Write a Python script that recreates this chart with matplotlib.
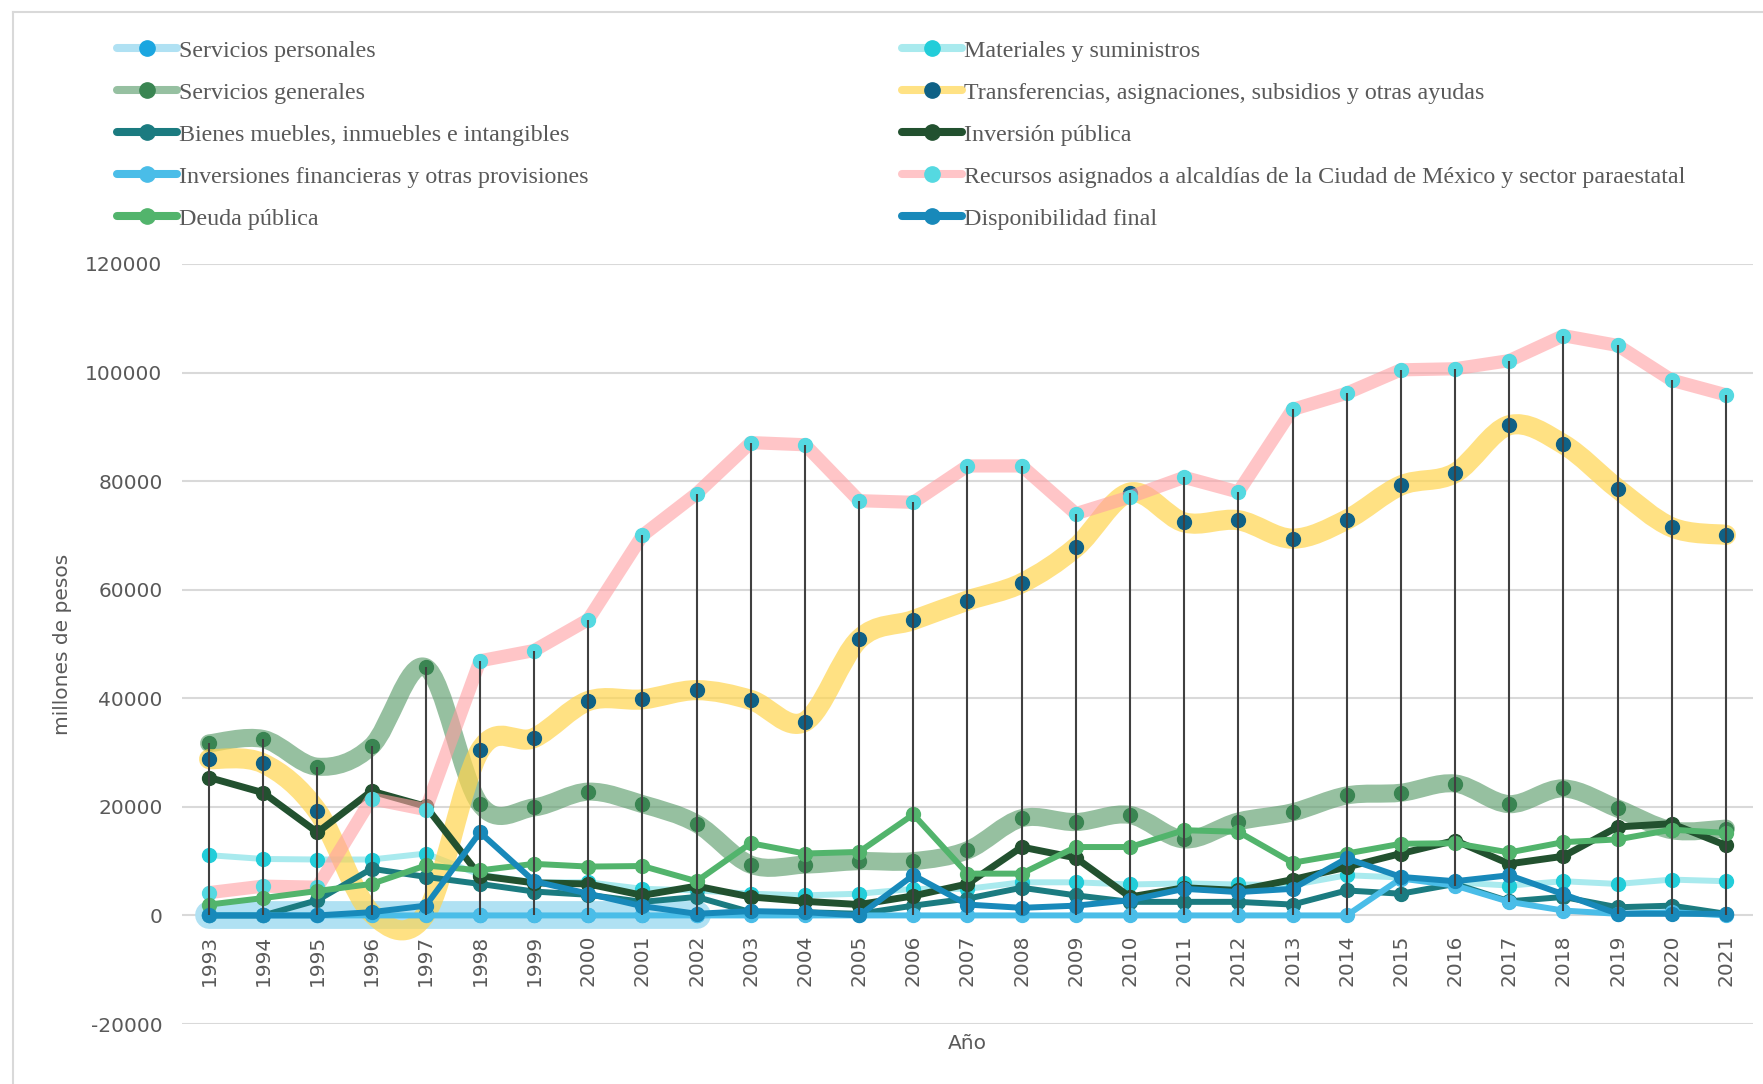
import numpy as np
import matplotlib
matplotlib.use("Agg")
import matplotlib.pyplot as plt
from matplotlib.path import Path
from matplotlib.patches import PathPatch
from matplotlib.lines import Line2D

plt.rcParams['axes.unicode_minus'] = False

# ---- data (millones de pesos) ----
years = list(range(1993, 2022))

servicios_personales = [0, 0, 0, 0, 0, 0, 0, 0, 0, 0] + [np.nan] * 19
materiales = [11100, 10400, 10300, 10300, 11400, 7500, 6100, 6100, 4900, 4600,
              4000, 3700, 4000, 4900, 4900, 6100, 6100, 5700, 5900, 5700,
              5600, 7400, 7000, 6100, 5500, 6300, 5800, 6600, 6300]
servicios_generales = [31700, 32500, 27400, 31200, 45700, 20500, 19900, 22800, 20500, 16900,
                       9350, 9350, 10000, 10000, 12000, 17900, 17200, 18500, 14000, 17300,
                       19000, 22100, 22600, 24300, 20500, 23400, 19700, 15700, 16000]
transferencias = [28800, 28000, 19200, 400, 300, 30400, 32700, 39500, 39800, 41500,
                  39700, 35700, 50900, 54400, 58000, 61200, 67800, 77900, 72400, 72800,
                  69400, 72900, 79200, 81500, 90300, 86800, 78600, 71500, 70100]
bienes_muebles = [0, 0, 2800, 8600, 7100, 5800, 4400, 3800, 2500, 3400,
                  600, 600, 300, 1800, 3100, 5100, 3700, 2500, 2500, 2500,
                  2000, 4600, 4000, 5800, 2600, 3400, 1500, 1800, 300]
inversion_publica = [25400, 22600, 15300, 22900, 20100, 7300, 6000, 5800, 3700, 5400,
                     3400, 2600, 2000, 3600, 5800, 12600, 10600, 3400, 5100, 4600,
                     6600, 8900, 11400, 13800, 9500, 10900, 16300, 16900, 12900]
inversiones_financieras = [0] * 22 + [6800, 5500, 2500, 900, 300, 600, 0]
recursos_alcaldias = [4200, 5400, 5200, 21500, 19500, 46900, 48800, 54500, 70000, 77700,
                      87100, 86700, 76400, 76100, 82800, 82800, 74000, 77100, 80700, 78000,
                      93200, 96200, 100500, 100700, 102200, 106800, 105000, 98600, 95900]
deuda_publica = [2000, 3200, 4500, 5800, 9200, 8300, 9500, 9000, 9100, 6300,
                 13300, 11400, 11700, 18600, 7700, 7700, 12600, 12600, 15700, 15400,
                 9700, 11400, 13200, 13300, 11600, 13500, 14000, 15800, 15200]
disponibilidad_final = [0, 0, 0, 600, 1800, 15300, 6300, 4000, 1700, 300,
                        800, 600, 0, 7400, 2000, 1400, 1800, 2800, 4900, 4300,
                        4900, 10500, 7100, 6300, 7400, 3900, 300, 300, 300]

# (label, values, line colour, alpha, line width, marker colour, smooth)
series = [
    ("Servicios personales", servicios_personales, "#B0E1F3", 1.0, 20, "#1BA6E0", False),
    ("Materiales y suministros", materiales, "#A9EAEE", 1.0, 4.3, "#22CDD9", False),
    ("Servicios generales", servicios_generales, "#5E9E6E", 0.65, 13, "#3A8552", True),
    ("Transferencias, asignaciones, subsidios y otras ayudas", transferencias, "#FFD54F", 0.7, 14.5, "#0F6186", True),
    ("Bienes muebles, inmuebles e intangibles", bienes_muebles, "#1B7B80", 1.0, 4.3, "#1B7B80", False),
    ("Inversión pública", inversion_publica, "#22512F", 1.0, 5, "#22512F", False),
    ("Inversiones financieras y otras provisiones", inversiones_financieras, "#4ABDE8", 1.0, 4.3, "#4ABDE8", False),
    ("Recursos asignados a alcaldías de la Ciudad de México y sector paraestatal", recursos_alcaldias, "#FF9FA3", 0.6, 9.5, "#55D9E1", False),
    ("Deuda pública", deuda_publica, "#52B46C", 1.0, 4.3, "#52B46C", False),
    ("Disponibilidad final", disponibilidad_final, "#1889BA", 1.0, 4.3, "#1889BA", False),
]

text_color = "#595959"
grid_color = "#D9D9D9"


# Excel-like smoothed line as cubic bezier path
def smooth_path(x, y):
    pts = [(a, b) for a, b in zip(x, y) if not np.isnan(b)]
    n = len(pts)
    verts = [pts[0]]
    codes = [Path.MOVETO]
    for i in range(n - 1):
        p0 = pts[i - 1] if i > 0 else pts[i]
        p1 = pts[i]
        p2 = pts[i + 1]
        p3 = pts[i + 2] if i + 2 < n else pts[i + 1]
        c1 = (p1[0] + (p2[0] - p0[0]) / 6, p1[1] + (p2[1] - p0[1]) / 6)
        c2 = (p2[0] - (p3[0] - p1[0]) / 6, p2[1] - (p3[1] - p1[1]) / 6)
        verts += [c1, c2, p2]
        codes += [Path.CURVE4] * 3
    return Path(verts, codes)


fig = plt.figure(figsize=(17.63, 10.84), dpi=100)
ax = fig.add_axes([182 / 1763, 60 / 1084, 1571 / 1763, 760 / 1084])

# category axis crosses at zero (do this before styling the ticks)
for side in ['top', 'right', 'left']:
    ax.spines[side].set_visible(False)
ax.spines['bottom'].set_position(('data', 0))
ax.spines['bottom'].set_color('none')

handles = {}
for z, (label, vals, lc, alpha, lw, mc, smooth) in enumerate(series):
    vals = np.array(vals, dtype=float)
    if smooth:
        patch = PathPatch(smooth_path(years, vals), fill=False, edgecolor=lc, alpha=alpha,
                          lw=lw, capstyle='round', joinstyle='round', zorder=2 + z)
        ax.add_patch(patch)
    else:
        ax.plot(years, vals, color=lc, alpha=alpha, lw=lw, solid_capstyle='round',
                solid_joinstyle='round', zorder=2 + z)
    ax.plot(years, vals, linestyle='none', marker='o', markersize=10,
            markerfacecolor=mc, markeredgecolor=mc, zorder=2 + z)
    legend_lc = lc
    if alpha < 1:
        legend_lc = matplotlib.colors.to_hex(
            np.array(matplotlib.colors.to_rgb(lc)) * alpha + (1 - alpha))
    handles[label] = Line2D([], [], color=legend_lc, lw=5.8, marker='o', markersize=11,
                            markerfacecolor=mc, markeredgecolor=mc, solid_capstyle='round')

# high-low lines
allvals = np.array([s[1] for s in series], dtype=float)
ax.vlines(years, np.nanmin(allvals, axis=0), np.nanmax(allvals, axis=0),
          color="#404040", lw=1.5, zorder=20)

ax.set_xlim(1992.5, 2021.5)
ax.set_ylim(-20000, 120000)
ax.set_yticks(range(-20000, 120001, 20000))
ax.set_xticks(years)
ax.set_xticklabels([str(y) for y in years])
ax.grid(axis='y', color=grid_color, lw=1.5)
ax.set_axisbelow(True)
ax.tick_params(axis='x', length=0, pad=14, labelsize=14.5, labelcolor=text_color,
               labelrotation=90)
ax.tick_params(axis='y', length=0, pad=14, labelsize=14.5, labelcolor=text_color)

ax.set_xlabel("Año", fontsize=14.5, color=text_color)
ax.xaxis.set_label_coords(0.5, -0.013)
ax.set_ylabel("millones de pesos", fontsize=14.5, color=text_color)
ax.yaxis.set_label_coords(-0.07, 0.5)

# legend in two columns
col1 = ["Servicios personales", "Servicios generales", "Bienes muebles, inmuebles e intangibles",
        "Inversiones financieras y otras provisiones", "Deuda pública"]
col2 = ["Materiales y suministros", "Transferencias, asignaciones, subsidios y otras ayudas",
        "Inversión pública", "Recursos asignados a alcaldías de la Ciudad de México y sector paraestatal",
        "Disponibilidad final"]
for col, x0 in [(col1, 117), (col2, 902)]:
    fig.legend([handles[c] for c in col], col, loc='upper left',
               bbox_to_anchor=(x0 / 1763, 1 - 40 / 1084), frameon=False,
               borderaxespad=0, borderpad=0, handlelength=2.5, handletextpad=0.08,
               labelspacing=0.84, prop={'family': 'Liberation Serif', 'size': 17.3},
               labelcolor=text_color)

# chart border
fig.add_artist(Line2D([13 / 1763, 13 / 1763], [0, 1 - 12 / 1084], color=grid_color, lw=1.5,
                      transform=fig.transFigure))
fig.add_artist(Line2D([13 / 1763, 1], [1 - 12 / 1084, 1 - 12 / 1084], color=grid_color, lw=1.5,
                      transform=fig.transFigure))

fig.savefig("out.png", dpi=100)
